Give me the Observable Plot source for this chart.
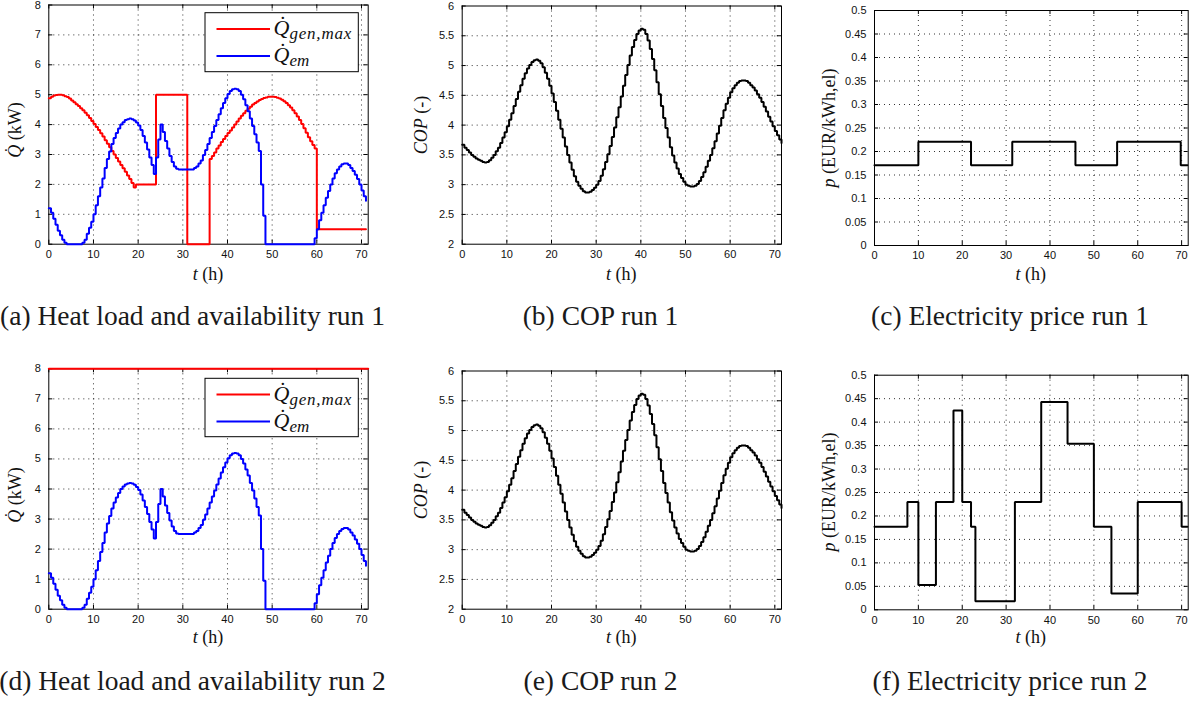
<!DOCTYPE html>
<html>
<head>
<meta charset="utf-8">
<script src="https://cdn.jsdelivr.net/npm/d3@7"></script>
<script src="https://cdn.jsdelivr.net/npm/@observablehq/plot@0.6"></script>
<style>
  body { margin: 0; background: #fff; }
  #page { position: relative; width: 1194px; height: 704px; overflow: hidden; background: #fff; }
  #page svg { position: absolute; }
</style>
</head>
<body>
<div id="page"></div>
<script>
// ---------- data ----------
const xTicks = [0, 10, 20, 30, 40, 50, 60, 70];
const qTicks = [0, 1, 2, 3, 4, 5, 6, 7, 8];
const copTicks = [2, 2.5, 3, 3.5, 4, 4.5, 5, 5.5, 6];
const priceTicks = [0, 0.05, 0.1, 0.15, 0.2, 0.25, 0.3, 0.35, 0.4, 0.45, 0.5];

// half-hour time stamps
const tQ = d3.range(143).map(i => i * 0.5);    // 0 .. 71 h
const tCOP = d3.range(144).map(i => i * 0.5);  // 0 .. 71.5 h

// heat emission demand (kW), both runs
const qEm = [1.2,1.05,0.85,0.65,0.45,0.3,0.15,0.05,0,0,0,0,0,0,0,0.05,0.15,0.35,0.55,0.75,
  1.0,1.3,1.6,1.9,2.2,2.55,2.85,3.1,3.35,3.55,3.72,3.87,4.0,4.08,4.15,4.18,4.2,4.18,4.14,4.07,
  3.97,3.82,3.62,3.4,3.17,2.9,2.65,2.35,2.9,3.5,4.0,3.75,3.45,3.2,2.95,2.75,2.6,2.52,
  2.5,2.5,2.5,2.5,2.5,2.5,2.5,2.55,2.6,2.7,2.8,2.98,3.15,3.35,3.55,3.75,3.95,4.15,4.35,4.55,
  4.72,4.88,5.02,5.12,5.18,5.2,5.18,5.12,5.0,4.85,4.65,4.45,4.2,3.95,3.68,3.4,3.12,2.0,0.95,0,
  0,0,0,0,0,0,0,0,0,0,0,0,0,0,0,0,0,0,0,0,0,
  0.2,0.5,0.8,1.05,1.3,1.55,1.78,2.0,2.2,2.37,2.5,2.6,2.67,2.7,2.7,2.65,2.55,2.45,2.32,2.18,
  2.0,1.8,1.6,1.45];

// max generator heat, run 1 (kW)
const qGenRun1 = [4.88,4.93,4.97,4.99,5.0,5.0,4.98,4.95,4.92,4.87,4.81,4.75,4.68,4.62,4.55,4.48,
  4.4,4.31,4.22,4.12,4.02,3.92,3.82,3.71,3.6,3.48,3.36,3.24,3.12,3.0,2.88,2.77,2.65,2.54,2.42,
  2.3,2.18,2.05,1.9,
  2.0,2.0,2.0,2.0,2.0,2.0,2.0,2.0,2.0,
  5.0,5.0,5.0,5.0,5.0,5.0,5.0,5.0,5.0,5.0,5.0,5.0,5.0,5.0,
  0,0,0,0,0,0,0,0,0,0,
  2.85,2.95,3.07,3.2,3.3,3.42,3.52,3.62,3.72,3.8,3.9,4.0,4.1,4.2,4.3,4.38,4.46,4.53,4.6,4.67,
  4.72,4.77,4.82,4.86,4.89,4.91,4.93,4.93,4.93,4.92,4.9,4.87,4.83,4.78,4.72,4.65,4.57,4.48,
  4.38,4.27,4.15,4.02,3.88,3.73,3.58,3.44,3.32,3.2,
  0.5,0.5,0.5,0.5,0.5,0.5,0.5,0.5,0.5,0.5,0.5,0.5,0.5,0.5,0.5,0.5,0.5,0.5,0.5,0.5,0.5,0.5,0.5];

// max generator heat, run 2 (kW)
const qGenRun2Times = [0, 71.5];
const qGenRun2 = [8, 8];

// coefficient of performance (both runs)
const cop = [3.67,3.62,3.58,3.54,3.5,3.47,3.44,3.42,3.4,3.38,3.37,3.38,3.41,3.45,3.5,3.56,3.62,
  3.7,3.79,3.88,3.98,4.09,4.2,4.32,4.44,4.56,4.67,4.78,4.87,4.95,5.01,5.06,5.09,5.1,5.08,5.04,
  4.97,4.88,4.78,4.66,4.53,4.39,4.24,4.09,3.94,3.79,3.64,3.5,3.37,3.25,3.14,3.05,2.98,2.93,
  2.89,2.87,2.87,2.88,2.91,2.95,3.0,3.06,3.15,3.26,3.38,3.51,3.65,3.8,3.96,4.13,4.3,4.48,4.66,
  4.84,5.01,5.17,5.31,5.43,5.53,5.59,5.62,5.6,5.53,5.42,5.28,5.11,4.92,4.72,4.52,4.32,4.12,
  3.95,3.79,3.63,3.49,3.37,3.27,3.18,3.11,3.05,3.0,2.98,2.97,2.97,2.98,3.01,3.06,3.13,3.21,
  3.3,3.4,3.5,3.61,3.73,3.86,3.99,4.12,4.25,4.36,4.46,4.55,4.62,4.67,4.71,4.74,4.75,4.75,4.74,
  4.71,4.67,4.63,4.58,4.52,4.46,4.39,4.31,4.23,4.14,4.06,3.98,3.9,3.83,3.76,3.7];

// electricity price (EUR/kWh,el), step changes
const priceRun1Times = [0, 10, 22, 31.4, 45.8, 55.3, 69.8, 71.3];
const priceRun1 = [0.171, 0.221, 0.171, 0.221, 0.171, 0.221, 0.171, 0.171];
const priceRun2Times = [0, 7.5, 10, 14, 18, 20, 22, 23, 32, 38, 44, 50, 54, 60, 70, 71.3];
const priceRun2 = [0.177, 0.23, 0.053, 0.23, 0.425, 0.23, 0.177, 0.018, 0.23, 0.443, 0.354, 0.177, 0.035, 0.23, 0.177, 0.177];

const captions = [
  "(a) Heat load and availability run 1", "(b) COP run 1", "(c) Electricity price run 1",
  "(d) Heat load and availability run 2", "(e) COP run 2", "(f) Electricity price run 2"
];

// ---------- helpers ----------
const page = document.getElementById("page");
const SERIF = "'Liberation Serif', 'Times New Roman', serif";
const SANS = "'Liberation Sans', Arial, Helvetica, sans-serif";

function stepLine(times, values, color) {
  return Plot.line(values, {
    x: (d, i) => times[i], y: d => d,
    curve: "step-after", stroke: color, strokeWidth: 2, strokeLinejoin: "miter"
  });
}

function richText(sel, parts) {
  parts.forEach(p => {
    const ts = sel.append("tspan").text(p.t);
    if (p.italic) ts.attr("font-style", "italic");
    if (p.size) ts.attr("font-size", p.size);
    if (p.dy) ts.attr("dy", p.dy);
    if (p.ls) ts.attr("letter-spacing", p.ls);
  });
  return sel;
}

function makePanel(cfg) {
  const {left, top, width, height, frame: [fx0, fx1, fy0, fy1], yDomain, yTicks, lines} = cfg;
  const innerW = fx1 - fx0, innerH = fy1 - fy0;
  const grid = {stroke: "#000", strokeOpacity: 0.8, strokeDasharray: "1,4", strokeWidth: 1};
  const svg = Plot.plot({
    width, height,
    marginLeft: fx0 - left, marginRight: left + width - fx1,
    marginTop: fy0 - top, marginBottom: top + height - fy1,
    x: {domain: [0, 71.5], ticks: xTicks, tickSize: 0, tickPadding: 6, tickFormat: d => String(d), label: null},
    y: {domain: yDomain, ticks: yTicks, tickSize: 0, tickPadding: 8, tickFormat: d => String(d), label: null},
    style: {fontFamily: SANS, fontSize: "11px", color: "#111", background: "transparent", overflow: "visible"},
    marks: [
      Plot.ruleX(xTicks.filter(d => d > 0), {x: d => d, ...grid}),
      Plot.ruleY(yTicks.filter(d => d > yDomain[0] && d < yDomain[1]), {y: d => d, ...grid}),
      Plot.tickX(xTicks, {x: d => d, insetTop: innerH - 4, stroke: "#000"}),
      Plot.tickX(xTicks, {x: d => d, insetBottom: innerH - 4, stroke: "#000"}),
      Plot.tickY(yTicks, {y: d => d, insetRight: innerW - 4, stroke: "#000"}),
      Plot.tickY(yTicks, {y: d => d, insetLeft: innerW - 4, stroke: "#000"}),
      Plot.frame({stroke: "#000", strokeWidth: 1}),
      ...lines
    ]
  });
  svg.style.left = left + "px";
  svg.style.top = top + "px";
  page.appendChild(svg);
  const s = d3.select(svg);
  // x label
  richText(s.append("text")
      .attr("x", (fx0 + fx1) / 2 - left).attr("y", cfg.xLabelY - top)
      .attr("text-anchor", "middle").attr("font-family", SERIF).attr("font-size", 18).attr("fill", "#111"),
    [{t: "t", italic: true}, {t: " (h)"}]);
  // y label
  const yx = cfg.yLabelX - left, yy = cfg.yLabelY - top;
  richText(s.append("text")
      .attr("transform", `translate(${yx},${yy}) rotate(-90)`)
      .attr("text-anchor", "middle").attr("font-family", SERIF).attr("font-size", 18).attr("fill", "#111"),
    cfg.yLabel);
  // legend
  if (cfg.legend) {
    const L = cfg.legend;
    const g = s.append("g").attr("transform", `translate(${L.x - left},${L.y - top})`);
    g.append("rect").attr("width", L.w).attr("height", L.h)
      .attr("fill", "#fff").attr("stroke", "#000").attr("stroke-width", 1);
    L.items.forEach(it => {
      const ly = it.dy;
      g.append("line").attr("x1", 11.5).attr("x2", 65).attr("y1", ly).attr("y2", ly)
        .attr("stroke", it.color).attr("stroke-width", 2);
      const tx = g.append("text").attr("x", 68.5).attr("y", ly + 6)
        .attr("text-anchor", "start")
        .attr("font-family", SERIF).attr("font-size", 22).attr("fill", "#111");
      richText(tx, [{t: "Q\u0307", italic: true}, {t: it.sub, italic: true, size: 17, dy: 4, ls: it.ls}]);
    });
  }
  return svg;
}

// ---------- captions ----------
const capSvg = d3.select(page).append("svg")
  .attr("width", 1194).attr("height", 704).style("left", "0px").style("top", "0px");
const capPos = [[192.5, 324.5], [600.5, 324.5], [1010, 324.5], [192.5, 689.5], [600.5, 689.5], [1010, 689.5]];
captions.forEach((c, i) => {
  capSvg.append("text").attr("x", capPos[i][0]).attr("y", capPos[i][1])
    .attr("text-anchor", "middle").attr("font-family", SERIF).attr("font-size", 27.5)
    .attr("fill", "#1a1a1a").text(c);
});

// ---------- panels ----------
const qLabel = [{t: "Q\u0307", italic: true}, {t: " (kW)"}];
const copLabel = [{t: "COP", italic: true}, {t: " (-)"}];
const pLabel = [{t: "p", italic: true}, {t: " (EUR/kWh,el)"}];
const legendItems = [
  {color: "#ff0000", sub: "gen,max", dy: 16.3, ls: 0.8},
  {color: "#0000ff", sub: "em", dy: 43.3, ls: 0}
];

// row 1
makePanel({left: 0, top: 0, width: 390, height: 300, frame: [48.3, 367.7, 4.5, 243.7],
  yDomain: [0, 8], yTicks: qTicks, xLabelY: 280, yLabelX: 21, yLabelY: 130, yLabel: qLabel,
  lines: [stepLine(tQ, qGenRun1, "#ff0000"), stepLine(tQ, qEm, "#0000ff")],
  legend: {x: 205, y: 12.7, w: 153.3, h: 59, items: legendItems}});
makePanel({left: 400, top: 0, width: 400, height: 300, frame: [461.7, 781, 5.5, 243.7],
  yDomain: [2, 6], yTicks: copTicks, xLabelY: 280, yLabelX: 427, yLabelY: 125, yLabel: copLabel,
  lines: [stepLine(tCOP, cop, "#000")]});
makePanel({left: 800, top: 0, width: 394, height: 300, frame: [874, 1187.7, 10, 245],
  yDomain: [0, 0.5], yTicks: priceTicks, xLabelY: 280, yLabelX: 835, yLabelY: 128, yLabel: pLabel,
  lines: [stepLine(priceRun1Times, priceRun1, "#000")]});

// row 2
makePanel({left: 0, top: 360, width: 390, height: 300, frame: [48.3, 367.7, 368.3, 608.7],
  yDomain: [0, 8], yTicks: qTicks, xLabelY: 643, yLabelX: 21, yLabelY: 495, yLabel: qLabel,
  lines: [stepLine(qGenRun2Times, qGenRun2, "#ff0000"), stepLine(tQ, qEm, "#0000ff")],
  legend: {x: 205, y: 378.3, w: 153.3, h: 58.4, items: legendItems}});
makePanel({left: 400, top: 360, width: 400, height: 300, frame: [461.7, 781, 370.5, 608.7],
  yDomain: [2, 6], yTicks: copTicks, xLabelY: 643, yLabelX: 427, yLabelY: 490, yLabel: copLabel,
  lines: [stepLine(tCOP, cop, "#000")]});
makePanel({left: 800, top: 360, width: 394, height: 300, frame: [874, 1187.7, 374.7, 609.3],
  yDomain: [0, 0.5], yTicks: priceTicks, xLabelY: 643, yLabelX: 835, yLabelY: 492, yLabel: pLabel,
  lines: [stepLine(priceRun2Times, priceRun2, "#000")]});
</script>
</body>
</html>
